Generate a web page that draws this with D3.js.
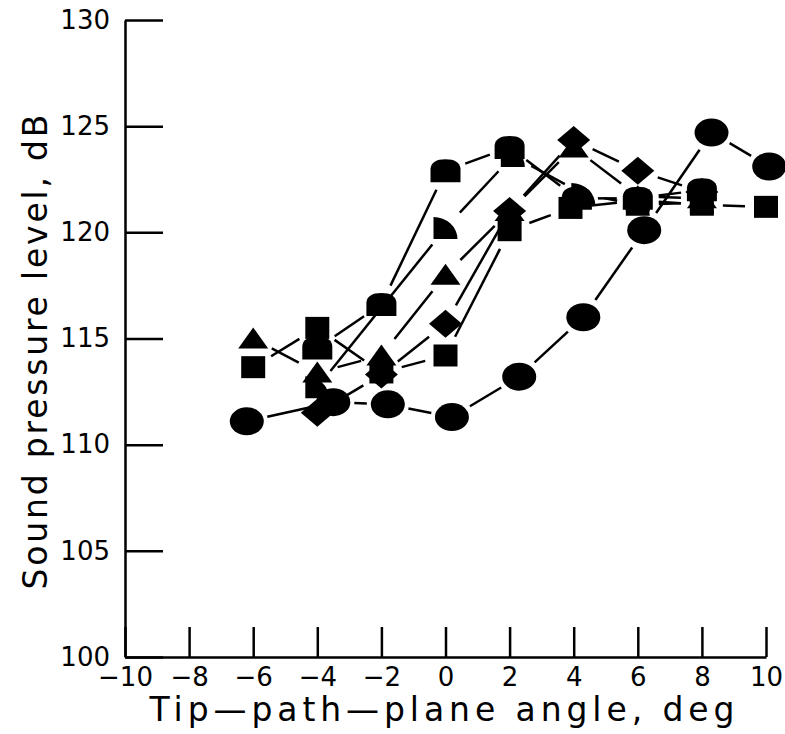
<!DOCTYPE html>
<html>
<head>
<meta charset="utf-8">
<script src="https://cdn.jsdelivr.net/npm/d3@7"></script>
<style>
  body { margin: 0; background: #fff; }
  svg { display: block; }
  text { font-family: "DejaVu Sans", sans-serif; fill: #000; }
</style>
</head>
<body>
<div id="chart"></div>
<script>
(function(){
  // chart size
  const width = 785;
  const height = 734;

  // tick values
  const xTicks = [-10, -8, -6, -4, -2, 0, 2, 4, 6, 8, 10];
  const yTicks = [100, 105, 110, 115, 120, 125, 130];

  // series values: [angle, level]
  const circleData = [[-6.2, 111.1], [-3.5, 112.0], [-1.8, 111.9], [0.2, 111.3], [2.3, 113.2],
                      [4.3, 116.0], [6.2, 120.1], [8.3, 124.7], [10.1, 123.1]];
  const squareData = [[-6, 113.65], [-4, 115.5], [-2, 113.4], [0, 114.2], [2, 120.1],
                      [3.9, 121.15], [6, 121.5], [8, 121.3], [10, 121.2]];
  const triangleData = [[-6, 115.0], [-4, 113.4], [-2, 114.2], [0, 118.0], [2, 121.0],
                        [4, 124.0], [6, 121.7], [8, 121.6]];
  const diamondData = [[-4, 111.5], [-2, 113.3], [0, 115.7], [2, 121.0], [4, 124.35],
                       [6, 122.9], [8, 121.9]];
  const domeData = [[-4, 114.55], [-2, 116.6], [0, 122.9], [2, 124.0], [4.1, 121.6],
                    [6, 121.6], [8, 122.0]];
  const quarterData = [[-4, 112.7], [0, 120.2], [2.1, 123.6], [4.3, 121.8], [6, 121.3], [8, 121.4]];

  // marker shapes
  const shapes = {
    circle: "M-17,0 A17,14 0 1 0 17,0 A17,14 0 1 0 -17,0 Z",
    square: "M-12,-11 L12,-11 L12,11 L-12,11 Z",
    triangle: "M0,-11 L15,10 L-15,10 Z",
    diamond: "M0,-14 L16.5,0 L0,14 L-16.5,0 Z",
    dome: "M-15,11.5 L-15,-2 Q-14,-11.5 0,-11.5 Q14,-11.5 15,-2 L15,11.5 Z",
    quarter: "M-12,11 L-12,-11 A24,22 0 0 1 12,11 Z"
  };

  const series = [
    { shape: "circle", values: circleData },
    { shape: "square", values: squareData },
    { shape: "triangle", values: triangleData },
    { shape: "diamond", values: diamondData },
    { shape: "dome", values: domeData },
    { shape: "quarter", values: quarterData }
  ];

  const svg = d3.select("#chart").append("svg")
      .attr("width", width)
      .attr("height", height);

  const x = d3.scaleLinear().domain([-10, 10]).range([125, 766]);
  const y = d3.scaleLinear().domain([100, 130]).range([657, 20]);

  // axes, ticks pointing into the plot
  const yAxis = svg.append("g")
      .attr("transform", `translate(${x(-10)},0)`)
      .call(d3.axisLeft(y).tickValues(yTicks).tickSizeInner(-38).tickSizeOuter(0).tickPadding(15));
  const xAxis = svg.append("g")
      .attr("transform", `translate(0,${y(100)})`)
      .call(d3.axisBottom(x).tickValues(xTicks).tickSizeInner(-30).tickSizeOuter(0).tickPadding(11)
        .tickFormat(d => d < 0 ? "\u2212" + Math.abs(d) : d));

  [yAxis, xAxis].forEach(g => {
    g.attr("font-size", null).attr("font-family", null);
    g.select(".domain").attr("stroke", "#000").attr("stroke-width", 2.5);
    g.selectAll(".tick line").attr("stroke", "#000").attr("stroke-width", 2.5);
    g.selectAll(".tick text").style("font-size", "26px").attr("fill", "#000");
  });

  // axis titles
  svg.append("text")
      .attr("x", 442)
      .attr("y", 721)
      .attr("text-anchor", "middle")
      .attr("textLength", 585)
      .attr("lengthAdjust", "spacing")
      .style("font-size", "33px")
      .text("Tip\u2014path\u2014plane angle, deg");

  svg.append("text")
      .attr("transform", "translate(47,352) rotate(-90)")
      .attr("text-anchor", "middle")
      .attr("textLength", 475)
      .attr("lengthAdjust", "spacing")
      .style("font-size", "33px")
      .text("Sound pressure level, dB");

  // connecting lines, cut back from each marker
  const gap = 21;
  const lineGroup = svg.append("g").attr("stroke", "#000").attr("stroke-width", 2.5);
  series.forEach(s => {
    d3.pairs(s.values).forEach(([a, b]) => {
      const x1 = x(a[0]), y1 = y(a[1]), x2 = x(b[0]), y2 = y(b[1]);
      const len = Math.hypot(x2 - x1, y2 - y1);
      if (len <= gap * 2 + 2) return;
      const ux = (x2 - x1) / len, uy = (y2 - y1) / len;
      lineGroup.append("line")
          .attr("x1", x1 + ux * gap).attr("y1", y1 + uy * gap)
          .attr("x2", x2 - ux * gap).attr("y2", y2 - uy * gap);
    });
  });

  // markers
  series.forEach(s => {
    svg.append("g").selectAll("path")
        .data(s.values)
        .join("path")
        .attr("d", shapes[s.shape])
        .attr("transform", d => `translate(${x(d[0])},${y(d[1])})`)
        .attr("fill", "#000");
  });
})();
</script>
</body>
</html>
